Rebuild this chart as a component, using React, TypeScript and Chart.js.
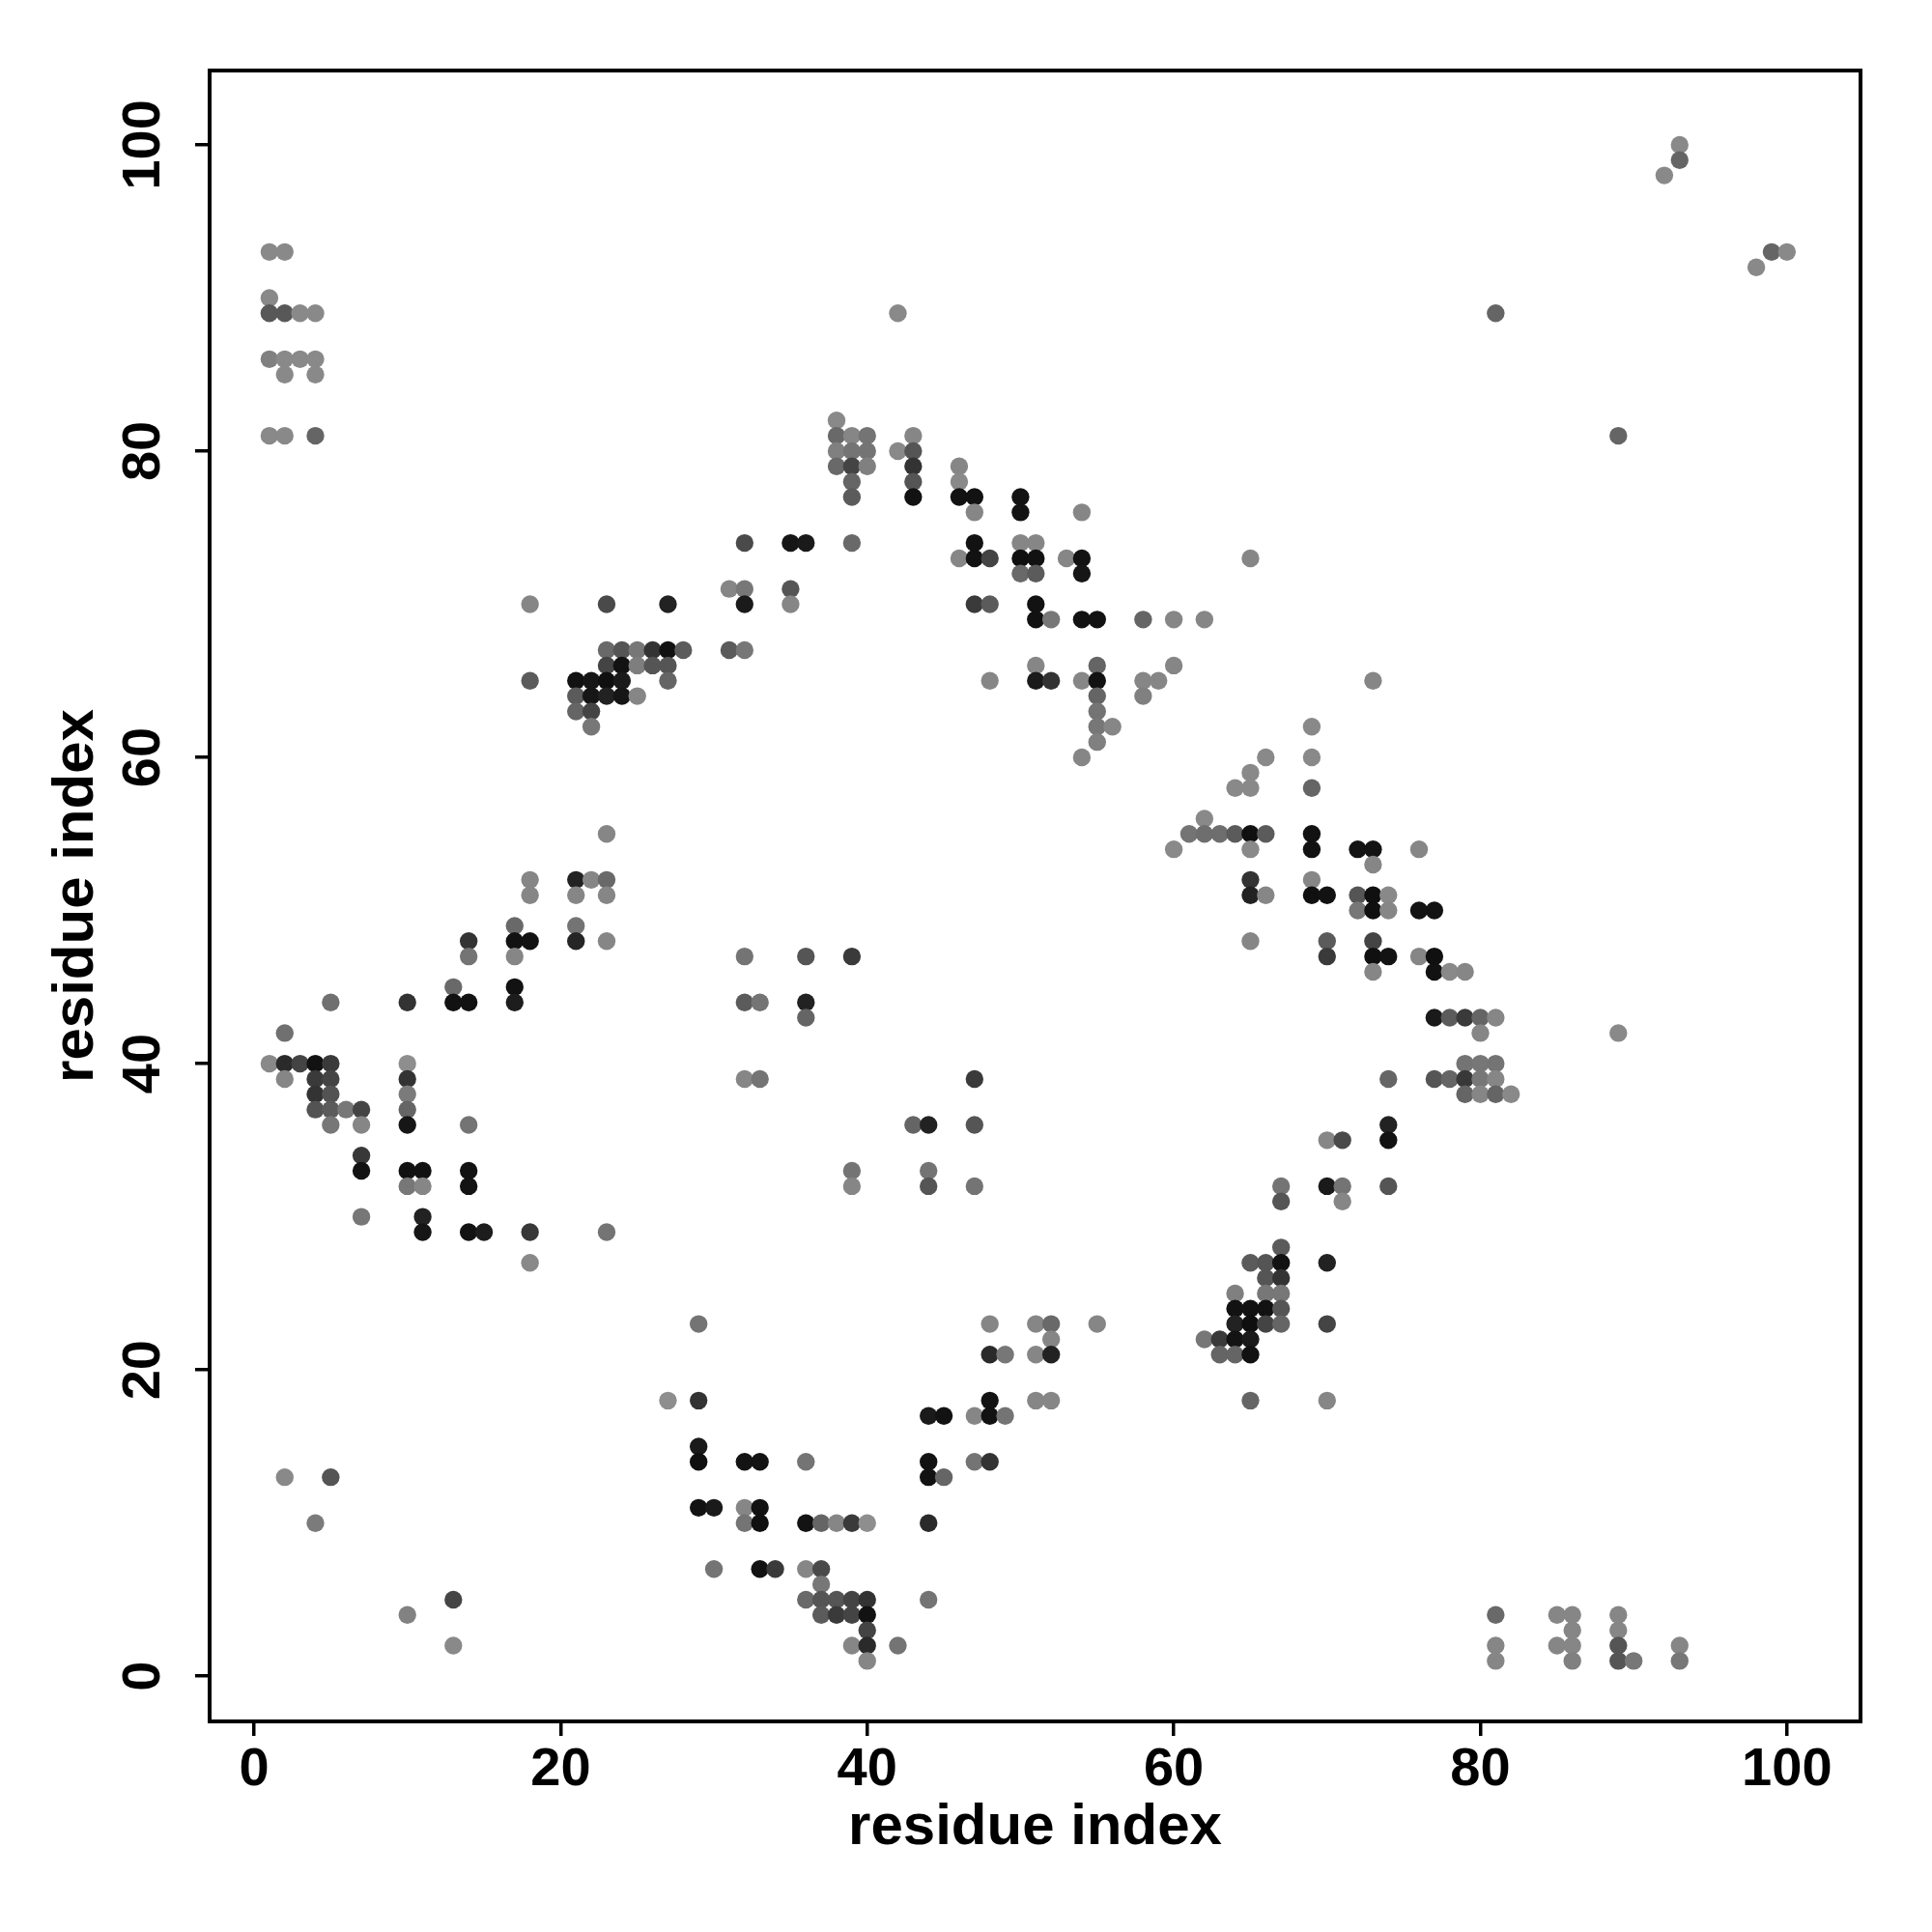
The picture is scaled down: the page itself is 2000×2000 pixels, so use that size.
import React, { useEffect, useRef } from "react";
import { Chart, registerables } from "chart.js";

Chart.register(...registerables);

// Contact map: residue i (x), residue j (y), contact probability (shade)
const residueI = [
  // top-left block
  1, 2, 1, 1, 2, 3, 4, 1, 2, 3, 4, 2, 4, 1, 2, 4,
  // left diagonal
  5, 10, 2, 1, 2, 3, 4, 5, 10, 2, 4, 5, 10, 4, 5, 10, 4, 5, 6, 7, 10, 5, 7, 10, 7, 7, 10, 11, 10, 11, 7, 11, 11,
  23, 18, 21, 22, 23, 18, 21, 23, 17, 21, 14, 17, 18, 21, 23, 14, 17, 13, 17, 13, 14, 17, 14, 14, 14, 14, 15, 18, 23, 18,
  // bottom-left isolated
  2, 5, 4, 10, 13, 13,
  // block 21-28 / 62-70
  18, 23, 27, 23, 24, 25, 26, 27, 28, 23, 24, 25, 26, 27, 18, 21, 22, 23, 24, 27, 21, 22, 23, 24, 25, 21, 22, 22,
  // upper band 31-62 / 60-82
  38, 38, 39, 40, 43, 38, 39, 40, 42, 43, 38, 39, 40, 43, 46, 39, 43, 46, 39, 43, 46, 47, 50, 47, 50, 54,
  32, 35, 36, 39, 47, 50, 51, 46, 47, 48, 50, 51, 53, 54, 50, 51, 54, 31, 32, 35, 32, 35, 47, 48, 51,
  51, 52, 54, 55, 58, 31, 32, 51, 55, 48, 51, 52, 54, 55, 55, 55, 55, 56, 55, 54,
  58, 59, 58, 60, 60, 62, 42, 65, 73,
  // right band 60-82 / 38-62
  69, 66, 69, 65, 64, 65, 69, 62, 61, 62, 63, 64, 65, 66, 69, 60, 65, 69, 72, 73, 76, 73, 65, 69,
  65, 66, 69, 70, 72, 73, 74, 72, 73, 74, 76, 77, 65, 70, 73, 70, 73, 74, 76, 77, 73, 77, 78, 79,
  77, 78, 79, 80, 81, 80, 79, 80, 81, 74, 77, 78, 79, 80, 81, 79, 80, 81, 82, 89,
  // block 62-74 / 18-36
  74, 70, 71, 74, 67, 70, 71, 74, 67, 71, 67, 65, 66, 67, 70, 66, 67, 64, 66, 67, 64, 65, 66, 67,
  64, 65, 66, 67, 70, 62, 63, 64, 65, 63, 64, 65, 65, 70,
  // lower band 27-55 / 1-23
  29, 48, 51, 52, 55, 52, 48, 49, 51, 52, 27, 29, 48, 51, 52, 44, 45, 47, 48, 49, 29,
  29, 32, 33, 36, 44, 47, 48, 44, 45, 29, 30, 32, 33, 32, 33, 36, 37, 38, 39, 40, 44,
  30, 33, 34, 36, 37, 37, 36, 37, 38, 39, 40, 44, 37, 38, 39, 40, 40, 39, 40, 42, 40,
  // middle scattered
  32, 36, 39, 32, 33, 36, 36, 32, 33, 47, 43, 44, 47, 39, 44, 39, 44, 47,
  // bottom-right
  81, 85, 86, 89, 86, 89, 81, 85, 86, 89, 93, 81, 86, 89, 90, 93,
  // top-right
  93, 93, 92, 99, 100, 98, 81, 89,
];

const residueJ = [
  93, 93, 90, 89, 89, 89, 89, 86, 86, 86, 86, 85, 85, 81, 81, 81,
  44, 44, 42, 40, 40, 40, 40, 40, 40, 39, 39, 39, 39, 38, 38, 38, 37, 37, 37, 37, 37, 36, 36, 36, 34, 33, 33, 33, 32, 32, 30, 30, 29,
  55, 52, 52, 52, 52, 51, 51, 51, 49, 49, 48, 48, 48, 48, 48, 47, 47, 45, 45, 44, 44, 44, 36, 33, 32, 29, 29, 29, 29, 27,
  13, 13, 10, 4, 5, 2,
  70, 70, 70, 67, 67, 67, 67, 67, 67, 66, 66, 66, 66, 66, 65, 65, 65, 65, 65, 65, 64, 64, 64, 64, 64, 63, 63, 62,
  82, 81, 81, 81, 81, 80, 80, 80, 80, 80, 79, 79, 79, 79, 79, 78, 78, 78, 77, 77, 77, 77, 77, 76, 76, 76,
  74, 74, 74, 74, 74, 74, 74, 73, 73, 73, 73, 73, 73, 73, 72, 72, 72, 71, 71, 71, 70, 70, 70, 70, 70,
  69, 69, 69, 69, 69, 67, 67, 66, 66, 65, 65, 65, 65, 65, 64, 63, 62, 62, 61, 60,
  65, 65, 64, 66, 69, 69, 89, 73, 65,
  62, 60, 60, 59, 58, 58, 58, 56, 55, 55, 55, 55, 55, 55, 55, 54, 54, 54, 54, 54, 54, 53, 52, 52,
  51, 51, 51, 51, 51, 51, 51, 50, 50, 50, 50, 50, 48, 48, 48, 47, 47, 47, 47, 47, 46, 46, 46, 46,
  43, 43, 43, 43, 43, 42, 40, 40, 40, 39, 39, 39, 39, 39, 39, 38, 38, 38, 38, 42,
  36, 35, 35, 35, 32, 32, 32, 32, 31, 31, 28, 27, 27, 27, 27, 26, 26, 25, 25, 25, 24, 24, 24, 24,
  23, 23, 23, 23, 23, 22, 22, 22, 22, 21, 21, 21, 18, 18,
  23, 23, 23, 23, 23, 22, 21, 21, 21, 21, 18, 18, 18, 18, 18, 17, 17, 17, 17, 17, 15,
  14, 14, 14, 14, 14, 14, 14, 13, 13, 11, 11, 11, 11, 10, 10, 10, 10, 10, 10, 10, 10,
  7, 7, 7, 7, 7, 6, 5, 5, 5, 5, 5, 5, 4, 4, 4, 4, 3, 2, 2, 2, 1,
  47, 47, 47, 44, 44, 44, 43, 39, 39, 39, 36, 36, 36, 33, 33, 32, 32, 32,
  4, 4, 4, 4, 3, 3, 2, 2, 2, 2, 2, 1, 1, 1, 1, 1,
  100, 99, 98, 93, 93, 92, 89, 81,
];

const contactProb = [
  0.1, 0.1, 0.1, 0.46, 0.46, 0.1, 0.1, 0.16, 0.1, 0.1, 0.1, 0.1, 0.1, 0.1, 0.1, 0.36,
  0.28, 0.73, 0.28, 0.1, 0.8, 0.61, 0.98, 0.68, 0.06, 0.12, 0.68, 0.61, 0.73, 0.73, 0.5, 0.2, 0.5, 0.44, 0.23, 0.61, 0.36, 0.23, 0.12, 0.95, 0.7, 0.98, 0.98, 0.98, 0.23, 0.12, 0.23, 0.86, 0.95,
  0.12, 0.12, 0.86, 0.12, 0.33, 0.12, 0.12, 0.12, 0.33, 0.25, 0.73, 0.98, 0.98, 0.84, 0.12, 0.25, 0.12, 0.33, 0.98, 0.98, 0.98, 0.9, 0.25, 0.98, 0.97, 0.98, 0.9, 0.7, 0.25, 0.1,
  0.1, 0.48, 0.2, 0.15, 0.6, 0.1,
  0.12, 0.56, 0.86, 0.33, 0.48, 0.23, 0.73, 0.98, 0.44, 0.61, 0.98, 0.18, 0.48, 0.48, 0.44, 0.98, 0.95, 0.99, 0.92, 0.36, 0.44, 0.95, 0.86, 0.95, 0.12, 0.36, 0.61, 0.23,
  0.1, 0.33, 0.12, 0.25, 0.12, 0.16, 0.25, 0.25, 0.1, 0.48, 0.33, 0.61, 0.16, 0.73, 0.12, 0.36, 0.48, 0.1, 0.44, 0.98, 0.98, 0.98, 0.97, 0.12, 0.97, 0.12,
  0.56, 0.95, 0.92, 0.33, 0.98, 0.12, 0.12, 0.12, 0.98, 0.61, 0.99, 0.98, 0.12, 0.97, 0.33, 0.44, 0.95, 0.12, 0.23, 0.48, 0.92, 0.12, 0.68, 0.44, 0.98,
  0.98, 0.23, 0.98, 0.98, 0.36, 0.44, 0.23, 0.12, 0.36, 0.12, 0.92, 0.73, 0.12, 0.98, 0.36, 0.25, 0.23, 0.12, 0.16, 0.12,
  0.12, 0.12, 0.16, 0.12, 0.12, 0.12, 0.1, 0.12, 0.12,
  0.1, 0.1, 0.1, 0.1, 0.1, 0.1, 0.36, 0.1, 0.25, 0.3, 0.3, 0.44, 0.99, 0.44, 0.98, 0.1, 0.1, 0.98, 0.97, 0.97, 0.12, 0.12, 0.73, 0.12,
  0.86, 0.12, 0.99, 0.98, 0.48, 0.99, 0.1, 0.23, 0.99, 0.12, 0.97, 0.97, 0.12, 0.44, 0.61, 0.68, 0.99, 0.97, 0.12, 0.99, 0.12, 0.98, 0.1, 0.12,
  0.92, 0.44, 0.68, 0.36, 0.12, 0.12, 0.25, 0.23, 0.25, 0.36, 0.48, 0.36, 0.7, 0.23, 0.12, 0.36, 0.12, 0.36, 0.1, 0.1,
  0.86, 0.12, 0.56, 0.98, 0.25, 0.92, 0.25, 0.48, 0.48, 0.12, 0.44, 0.44, 0.48, 0.98, 0.86, 0.48, 0.73, 0.16, 0.23, 0.23, 0.98, 0.98, 0.98, 0.48,
  0.86, 1.0, 0.61, 0.36, 0.61, 0.23, 0.68, 0.97, 0.92, 0.36, 0.36, 0.98, 0.36, 0.12,
  0.25, 0.12, 0.12, 0.33, 0.12, 0.12, 0.8, 0.23, 0.12, 0.86, 0.06, 0.73, 0.97, 0.12, 0.12, 0.92, 0.98, 0.12, 0.98, 0.25, 0.92,
  0.99, 0.97, 0.97, 0.25, 0.98, 0.25, 0.73, 0.98, 0.36, 0.98, 0.92, 0.12, 0.98, 0.25, 0.99, 0.97, 0.36, 0.12, 0.68, 0.06, 0.8,
  0.25, 0.98, 0.68, 0.12, 0.56, 0.23, 0.33, 0.48, 0.48, 0.61, 0.73, 0.25, 0.44, 0.68, 0.61, 0.98, 0.61, 0.12, 0.8, 0.25, 0.12,
  0.25, 0.48, 0.68, 0.44, 0.25, 0.86, 0.36, 0.12, 0.25, 0.68, 0.36, 0.86, 0.48, 0.25, 0.25, 0.12, 0.48, 0.25,
  0.33, 0.12, 0.12, 0.12, 0.12, 0.12, 0.12, 0.12, 0.12, 0.48, 0.12, 0.12, 0.16, 0.48, 0.23, 0.23,
  0.1, 0.36, 0.1, 0.36, 0.1, 0.1, 0.36, 0.36,
];

const tickValues = [0, 20, 40, 60, 80, 100];
const axisTitleX = "residue index";
const axisTitleY = "residue index";

const FONT = "'Liberation Sans', Arial, Helvetica, sans-serif";

function shade(p: number): string {
  const g = Math.round(150 - 135 * p);
  return `rgb(${g},${g},${g})`;
}

const boxPlugin = {
  id: "frameBox",
  afterDraw(chart: any) {
    const { ctx, chartArea } = chart;
    const { left, top, right, bottom } = chartArea;
    ctx.save();
    ctx.strokeStyle = "#000";
    ctx.lineWidth = 4;
    ctx.strokeRect(left, top, right - left, bottom - top);
    ctx.restore();
  },
};

export default function App() {
  const canvasRef = useRef<HTMLCanvasElement | null>(null);

  useEffect(() => {
    if (!canvasRef.current) return;
    const points = residueI.map((x, k) => ({ x, y: residueJ[k] }));
    const colors = contactProb.map((p) => shade(p));

    const chart = new Chart(canvasRef.current, {
      type: "scatter",
      data: {
        datasets: [
          {
            data: points,
            pointRadius: 9.2,
            pointHoverRadius: 9.2,
            pointBorderWidth: 0,
            pointBackgroundColor: colors,
            pointBorderColor: colors,
          },
        ],
      },
      options: {
        responsive: false,
        animation: false,
        devicePixelRatio: 1,
        events: [],
        layout: { padding: { left: 0, top: 73, right: 74, bottom: 0 } },
        plugins: {
          legend: { display: false },
          tooltip: { enabled: false },
        },
        scales: {
          x: {
            type: "linear",
            min: -2.9,
            max: 104.8,
            afterBuildTicks: (scale: any) => {
              scale.ticks = tickValues.map((v) => ({ value: v }));
            },
            afterFit: (scale: any) => {
              scale.height = 218;
            },
            border: { display: false },
            grid: {
              drawOnChartArea: false,
              drawTicks: true,
              tickLength: 15,
              lineWidth: 3.5,
              color: "#000",
            },
            ticks: {
              autoSkip: false,
              maxRotation: 0,
              minRotation: 0,
              padding: 2,
              color: "#000",
              font: { family: FONT, size: 56, weight: "bold" },
            },
            title: {
              display: true,
              text: axisTitleX,
              color: "#000",
              font: { family: FONT, size: 60, weight: "bold" },
              padding: { top: 0, bottom: 72 },
            },
          },
          y: {
            type: "linear",
            min: -2.95,
            max: 104.85,
            afterBuildTicks: (scale: any) => {
              scale.ticks = tickValues.map((v) => ({ value: v }));
            },
            afterFit: (scale: any) => {
              scale.width = 217;
            },
            border: { display: false },
            grid: {
              drawOnChartArea: false,
              drawTicks: true,
              tickLength: 15,
              lineWidth: 3.5,
              color: "#000",
            },
            ticks: {
              autoSkip: false,
              minRotation: 90,
              maxRotation: 90,
              crossAlign: "center",
              padding: 6,
              color: "#000",
              font: { family: FONT, size: 56, weight: "bold" },
            },
            title: {
              display: true,
              text: axisTitleY,
              color: "#000",
              font: { family: FONT, size: 60, weight: "bold" },
              padding: { top: 43, bottom: 0 },
            },
          },
        },
      },
      plugins: [boxPlugin],
    } as any);

    return () => {
      chart.destroy();
    };
  }, []);

  return (
    <div style={{ position: "absolute", left: 0, top: 0, width: 2000, height: 2000, background: "#fff" }}>
      <canvas ref={canvasRef} width={2000} height={2000} style={{ display: "block", width: 2000, height: 2000 }} />
    </div>
  );
}
